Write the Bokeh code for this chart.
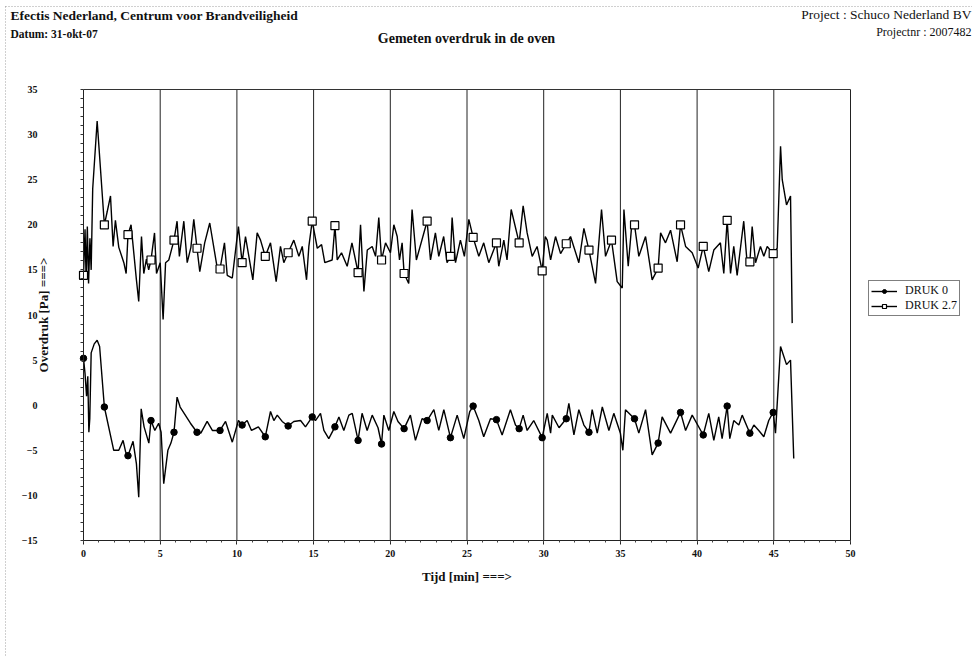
import numpy as np
from bokeh.plotting import figure
from bokeh.models import (FixedTicker, Legend, LegendItem, ColumnDataSource, LinearAxis, Range1d)
from bokeh.core.properties import value
from bokeh.embed import file_html
from bokeh.resources import INLINE

# ---------------- data ----------------
druk27_t = [0, 0.1, 0.17, 0.25, 0.33, 0.42, 0.5, 0.6, 0.89, 1.36, 1.55, 1.76, 1.93, 2.08, 2.3,
            2.63, 2.78, 2.9, 3.1, 3.45, 3.6, 3.78, 3.93, 4.1, 4.25, 4.4, 4.63, 4.76, 5.0, 5.19,
            5.35, 5.56, 5.9, 6.1, 6.25, 6.54, 6.76, 7.0, 7.19, 7.4, 7.58, 7.9, 8.23, 8.7, 8.9,
            9.19, 9.37, 9.7, 9.97, 10.1, 10.34, 10.56, 10.78, 11.04, 11.32, 11.54, 11.85, 12.19,
            12.56, 12.84, 13.06, 13.34, 13.71, 14.04, 14.26, 14.54, 14.69, 14.91, 15.24, 15.52,
            15.73, 16.21, 16.39, 16.54, 16.82, 17.19, 17.5, 17.9, 18.06, 18.28, 18.5, 18.82,
            19.04, 19.25, 19.43, 19.69, 20.01, 20.23, 20.45, 20.6, 20.77, 20.9, 21.2, 21.42,
            21.7, 22.4, 22.62, 22.94, 23.16, 23.48, 23.7, 23.92, 24.03, 24.25, 24.57, 24.83,
            25.12, 25.4, 25.77, 26.09, 26.42, 26.92, 27.07, 27.4, 27.61, 27.88, 28.4, 28.66,
            28.92, 29.25, 29.57, 29.9, 30.1, 30.23, 30.45, 30.77, 31.1, 31.47, 31.75, 32.29,
            32.62, 32.95, 33.38, 33.77, 34.03, 34.42, 34.79, 35.12, 35.23, 35.51, 35.73, 35.92,
            36.2, 36.64, 37.07, 37.46, 37.62, 37.94, 38.27, 38.7, 38.92, 39.25, 39.68, 40.07,
            40.4, 40.76, 41.09, 41.52, 41.74, 41.96, 42.18, 42.39, 42.61, 43.04, 43.26, 43.44,
            43.59, 43.81, 44.13, 44.35, 44.57, 44.96, 45.22, 45.44, 45.55, 45.83, 46.09, 46.2]
druk27_v = [14.4, 19.5, 14.0, 19.8, 13.5, 18.5, 15.0, 24.0, 31.5, 20.0, 21.5, 23.2, 17.6, 20.5, 17.5,
            15.8, 14.6, 18.9, 20.0, 13.9, 11.5, 18.7, 14.6, 16.2, 15.0, 16.1, 19.1, 14.6, 15.8, 9.5,
            15.8, 16.1, 18.3, 20.4, 16.5, 20.4, 15.8, 17.5, 20.6, 17.4, 14.8, 18.0, 20.2, 15.4, 15.1,
            18.0, 14.4, 14.1, 18.0, 19.8, 15.8, 18.7, 16.5, 13.9, 19.1, 18.3, 16.5, 18.0,
            13.7, 17.6, 15.8, 16.9, 18.3, 16.5, 17.6, 13.9, 17.6, 20.4, 17.4, 17.8,
            15.8, 16.1, 19.9, 16.1, 16.9, 15.4, 18.0, 14.7, 20.0, 12.6, 17.2, 17.6,
            16.5, 20.8, 16.1, 18.0, 16.9, 20.0, 18.7, 16.1, 18.0, 14.6, 13.5, 21.7,
            16.1, 20.4, 16.1, 19.1, 16.5, 18.7, 15.8, 16.5, 20.8, 15.8, 18.3, 16.5,
            20.6, 18.6, 16.5, 18.0, 15.8, 18.0, 15.4, 18.3, 16.1, 21.7, 18.0, 22.1,
            19.1, 16.5, 17.6, 14.9, 18.7, 18.3, 16.1, 18.7, 16.8, 17.9, 18.7, 15.8,
            19.6, 17.2, 13.5, 21.7, 16.5, 18.3, 13.7, 13.0, 21.7, 15.4, 19.8, 20.0,
            16.5, 18.7, 13.9, 15.2, 19.1, 18.0, 19.4, 15.9, 20.0, 17.6, 16.9, 15.2,
            17.6, 14.8, 17.2, 18.0, 14.6, 20.5, 14.6, 17.6, 14.4, 20.4, 15.8, 15.9,
            19.8, 15.8, 17.6, 16.5, 17.6, 16.8, 17.4, 28.7, 25.0, 22.2, 23.2, 9.1]

druk0_t = [0, 0.1, 0.2, 0.28, 0.35, 0.41, 0.5, 0.7, 0.89, 1.05, 1.36, 1.97, 2.3, 2.58, 2.75, 2.9,
           3.23, 3.45, 3.6, 3.76, 3.95, 4.26, 4.4, 4.65, 4.9, 5.06, 5.23, 5.5, 5.7, 5.9, 6.1, 6.3,
           6.97, 7.4, 7.65, 8.06, 8.4, 8.9, 9.26, 9.7, 10.1, 10.34, 10.67, 10.95, 11.4, 11.85,
           12.19, 12.41, 12.63, 12.95, 13.34, 13.71, 14.15, 14.47, 14.91, 15.12, 15.45, 15.67,
           15.99, 16.39, 16.65, 16.97, 17.3, 17.52, 17.9, 18.16, 18.49, 18.82, 19.2, 19.43,
           19.58, 19.9, 20.23, 20.5, 20.9, 21.31, 21.64, 22.07, 22.4, 22.84, 23.16, 23.49,
           23.92, 24.36, 24.79, 25.18, 25.4, 25.77, 26.09, 26.53, 26.92, 27.29, 27.83, 28.16,
           28.4, 28.66, 28.92, 29.35, 29.9, 30.23, 30.45, 30.56, 31.0, 31.47, 31.64, 31.97,
           32.29, 32.62, 32.95, 33.16, 33.49, 33.82, 34.25, 34.57, 35.0, 35.16, 35.33, 35.92,
           36.2, 36.64, 37.07, 37.46, 37.72, 38.27, 38.92, 39.25, 39.68, 40.4, 40.76, 41.09,
           41.41, 41.63, 41.96, 42.13, 42.39, 42.72, 42.94, 43.44, 43.7, 44.02, 44.35, 44.67,
           44.96, 45.11, 45.44, 45.83, 46.09, 46.3]
druk0_v = [5.2, 3.5, 1.0, 3.2, -3.0, -1.5, 5.8, 6.8, 7.2, 6.5, -0.2, -5.0, -5.0, -3.9, -5.2, -5.6,
           -4.0, -6.5, -10.2, -0.4, -2.4, -4.2, -1.7, -2.8, -2.0, -3.0, -8.7, -5.0, -4.2, -3.0, 0.9, -0.2,
           -2.0, -3.0, -3.1, -1.8, -2.8, -2.8, -1.8, -4.1, -1.7, -2.2, -1.7, -2.8, -2.4, -3.5,
           -0.7, -1.7, -1.1, -1.8, -2.3, -1.8, -1.7, -2.4, -1.3, -1.7, -0.9, -2.8,
           -3.7, -2.4, -1.3, -2.8, -1.1, -0.9, -3.9, -0.9, -2.8, -1.1, -2.5, -4.3,
           -1.1, -2.8, -0.7, -1.8, -2.6, -1.1, -3.9, -1.5, -1.7, -0.5, -2.8, -0.5,
           -3.6, -1.1, -3.7, -0.7, -0.1, -1.7, -3.5, -1.5, -1.6, -3.3, -0.5, -2.2,
           -2.6, -1.1, -2.8, -1.7, -3.6, -0.9, -3.1, -1.1, -2.5, -1.5, 0.2, -3.3,
           -0.5, -2.2, -3.0, -0.5, -3.1, -0.2, -2.8, -0.9, -3.1, -5.0, -0.5, -1.5,
           -3.1, -0.5, -5.5, -4.2, -1.3, -3.1, -0.8, -2.8, -1.1, -3.3, -0.9, -3.9,
           -1.3, -3.7, -0.1, -3.7, -1.7, -2.2, -1.1, -3.1, -2.2, -2.8, -3.5, -1.7,
           -0.8, -3.1, 6.5, 4.5, 5.0, -5.9]

# minutes at which the chart shows a marker on each series
marker_t = [0, 1.36, 2.9, 4.4, 5.9, 7.4, 8.9, 10.34, 11.85, 13.34, 14.91, 16.39, 17.9, 19.43,
            20.9, 22.4, 23.92, 25.4, 26.92, 28.4, 29.9, 31.47, 32.95, 34.42, 35.92, 37.46,
            38.92, 40.4, 41.96, 43.44, 44.96]

x_ticks = list(range(0, 51, 5))
y_ticks = list(range(-15, 36, 5))
X_MIN, X_MAX = 0, 50
Y_MIN, Y_MAX = -15, 35

header_left = ["Efectis Nederland, Centrum voor Brandveiligheid", "Datum: 31-okt-07"]
header_right = ["Project : Schuco Nederland BV", "Projectnr : 2007482"]
chart_title = "Gemeten overdruk in de oven"
x_label = "Tijd [min] ===>"
y_label = "Overdruk [Pa] ===>"

SERIF = "Liberation Serif"
INK = "#111111"

# ---------------- page geometry (pixels) ----------------
W, H = 972, 656
PL, PR, PT, PB = 83, 850, 89, 540          # plot box edges
sx = (X_MAX - X_MIN) / (PR - PL)
sy = (Y_MAX - Y_MIN) / (PB - PT)
x_range = Range1d(X_MIN - PL * sx, X_MAX + (W - PR) * sx)
y_range = Range1d(Y_MIN - (H - PB) * sy, Y_MAX + PT * sy)

p = figure(width=W, height=H, x_range=x_range, y_range=y_range,
           output_backend="svg", toolbar_location=None, min_border=0)
p.extra_x_ranges = {"px": Range1d(0, W)}
p.extra_y_ranges = {"px": Range1d(H, 0)}
p.background_fill_color = "white"
p.border_fill_color = "white"
p.outline_line_color = None
p.grid.visible = False

# faint dotted edge of the scanned sheet
p.segment(x0=[5, 5], y0=[6, 6], x1=[5, W], y1=[H, 6], x_range_name="px", y_range_name="px",
          line_color="#777777", line_width=1, line_dash="1 2", line_alpha=0.7)

# ---------------- axes ----------------
xa = p.xaxis[0]
xa.fixed_location = Y_MIN
xa.bounds = (X_MIN, X_MAX)
xa.ticker = FixedTicker(ticks=x_ticks, minor_ticks=list(range(X_MIN, X_MAX + 1)))
xa.axis_line_color = "#222222"
xa.major_tick_line_color = "#222222"
xa.minor_tick_line_color = "#444444"
xa.major_tick_out = 4
xa.major_tick_in = 0
xa.minor_tick_out = 2
xa.minor_tick_in = 0
xa.major_label_text_font = SERIF
xa.major_label_text_font_style = "bold"
xa.major_label_text_font_size = "10px"
xa.major_label_text_color = INK
xa.major_label_standoff = 5
xa.axis_label = x_label
xa.axis_label_text_font = SERIF
xa.axis_label_text_font_style = "bold"
xa.axis_label_text_font_size = "13px"
xa.axis_label_text_color = INK
xa.axis_label_standoff = 9

# inner left axis: line, small ticks and axis title
ya = p.yaxis[0]
ya.fixed_location = X_MIN
ya.bounds = (Y_MIN, Y_MAX)
ya.ticker = FixedTicker(ticks=[], minor_ticks=list(range(Y_MIN, Y_MAX + 1)))
ya.axis_line_color = "#222222"
ya.minor_tick_line_color = "#333333"
ya.minor_tick_out = 3
ya.minor_tick_in = 0
ya.major_tick_out = 4
ya.major_tick_in = 0
ya.major_label_standoff = 0
ya.axis_label = y_label
ya.axis_label_text_font = SERIF
ya.axis_label_text_font_style = "bold"
ya.axis_label_text_font_size = "13px"
ya.axis_label_text_color = INK
ya.axis_label_standoff = 30

# outer left axis: tick numbers, further out
num_axis = LinearAxis(ticker=FixedTicker(ticks=y_ticks, minor_ticks=[]),
                      fixed_location=X_MIN, bounds=(Y_MIN, Y_MAX))
num_axis.axis_line_color = None
num_axis.major_tick_line_color = None
num_axis.minor_tick_line_color = None
num_axis.major_tick_out = 0
num_axis.minor_tick_out = 0
num_axis.major_label_standoff = 46
num_axis.major_label_text_font = SERIF
num_axis.major_label_text_font_style = "bold"
num_axis.major_label_text_font_size = "10px"
num_axis.major_label_text_color = INK
p.add_layout(num_axis, "left")

# vertical grid lines every 5 minutes and the top edge of the plot box
grid_x = [t for t in x_ticks if t > X_MIN]
p.segment(x0=grid_x, y0=[Y_MIN] * len(grid_x), x1=grid_x, y1=[Y_MAX] * len(grid_x),
          line_color="#222222", line_width=1)
p.segment(x0=[X_MIN], y0=[Y_MAX], x1=[X_MAX], y1=[Y_MAX], line_color="#333333", line_width=1)

# ---------------- series ----------------
src27 = ColumnDataSource(dict(t=druk27_t, v=druk27_v))
src0 = ColumnDataSource(dict(t=druk0_t, v=druk0_v))
m27 = np.isin(np.round(druk27_t, 2), np.round(marker_t, 2))
m0 = np.isin(np.round(druk0_t, 2), np.round(marker_t, 2))
msrc27 = ColumnDataSource(dict(t=np.array(druk27_t)[m27], v=np.array(druk27_v)[m27]))
msrc0 = ColumnDataSource(dict(t=np.array(druk0_t)[m0], v=np.array(druk0_v)[m0]))

l0 = p.line("t", "v", source=src0, line_color="black", line_width=1.4)
l27 = p.line("t", "v", source=src27, line_color="black", line_width=1.4)
s0 = p.scatter("t", "v", source=msrc0, marker="circle", size=6.5,
               fill_color="black", line_color="black")
s27 = p.scatter("t", "v", source=msrc27, marker="square", size=8,
                fill_color="white", line_color="black", line_width=1.2)

legend = Legend(items=[LegendItem(label="DRUK 0", renderers=[l0, s0]),
                       LegendItem(label="DRUK 2.7", renderers=[l27, s27])],
                location=(868, H - 316), orientation="vertical")
legend.label_text_font = SERIF
legend.label_text_font_size = "12px"
legend.label_text_color = INK
legend.label_height = 10
legend.glyph_height = 10
legend.glyph_width = 26
legend.spacing = 0
legend.padding = 2
legend.margin = 0
legend.label_standoff = 8
legend.border_line_color = "black"
legend.border_line_width = 1
legend.background_fill_color = "white"
p.add_layout(legend, "center")

# ---------------- header texts (pixel placement) ----------------
def txt(s, x, y, size, style="bold", align="left"):
    p.text(x=[x], y=[y], text=[s], x_range_name="px", y_range_name="px",
           text_font=value(SERIF), text_font_size=size, text_font_style=style,
           text_align=align, text_baseline="middle", text_color=INK)

txt(header_left[0], 10, 15, "13.5px")
txt(header_left[1], 10, 33, "11.5px")
txt(chart_title, 466, 38, "14px", align="center")
txt(header_right[0], W - 1, 14, "13.5px", style="normal", align="right")
txt(header_right[1], W - 1, 31, "12px", style="normal", align="right")

open("out.html", "w").write(file_html(p, INLINE))
